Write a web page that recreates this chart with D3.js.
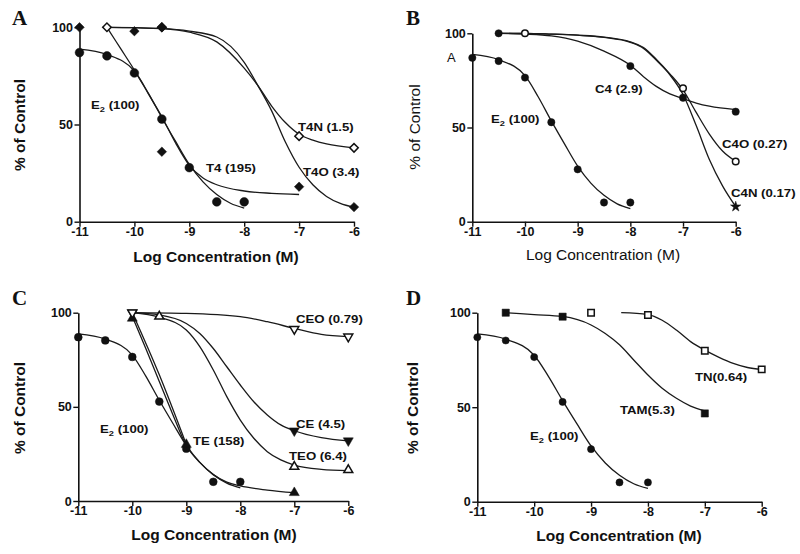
<!DOCTYPE html>
<html><head><meta charset="utf-8">
<script src="https://cdn.jsdelivr.net/npm/d3@7"></script>
<style>body{margin:0;background:#fff} svg{display:block;font-family:"Liberation Sans",Arial,Helvetica,sans-serif}</style>
</head><body><svg id="c" width="800" height="554"></svg>
<script>
// ---------- data ----------
const xTicks = [-11, -10, -9, -8, -7, -6];
const yTicks = [0, 50, 100];

// E2 (shared by all panels)
const e2X = [-11, -10.5, -10, -9.5, -9, -8.5, -8];
const e2Y = [87, 85.3, 76.5, 52.8, 27.8, 10.2, 10.2];
const e2CurveX = [-11, -10.5, -10, -9.75, -9.5, -9.25, -9, -8.75, -8.5, -8.25, -8];
const e2CurveY = [88.8, 86, 77.5, 66.3, 53.5, 41.3, 29.5, 20.5, 14, 9.5, 7];

// Panel A
const t4X = [-11, -10, -9.5, -7], t4Y = [100, 98, 36, 18];
const t4CurveX = [-10.5, -10.25, -10, -9.75, -9.5, -9.25, -9, -8.75, -8.5, -8, -7.5, -7];
const t4CurveY = [100, 89, 78, 66, 54, 40.5, 29, 22.5, 19, 15.8, 14.6, 14];
const t4oX = [-9.5, -6], t4oY = [100, 7.5];
const t4oCurveX = [-10.5, -10, -9.5, -9, -8.5, -8, -7.75, -7.5, -7.25, -7, -6.75, -6.5, -6.25, -6];
const t4oCurveY = [100, 99.8, 99.4, 98, 95, 82, 70, 57, 41, 28, 19, 13, 9.4, 7.4];
const t4nX = [-10.5, -9.5, -7, -6], t4nY = [100, 100, 44, 38];
const t4nCurveX = [-10.5, -10, -9.5, -9, -8.5, -8, -7.75, -7.5, -7.25, -7, -6.75, -6.5, -6];
const t4nCurveY = [100, 99.8, 99.3, 97.5, 92.5, 79, 70, 59.5, 51, 45, 42, 40, 38];

// Panel B
const c4X = [-10.5, -8, -7, -6], c4Y = [100, 82.6, 65.8, 58.4];
const c4CurveX = [-10.5, -10, -9.5, -9, -8.5, -8, -7.75, -7.5, -7.25, -7, -6.75, -6.5, -6];
const c4CurveY = [100, 99.6, 98.6, 95.8, 90.5, 83, 77, 71.7, 67.8, 65.3, 63, 61.3, 59.5];
const c4oX = [-10, -7, -6], c4oY = [100, 70.8, 32];
const c4oCurveX = [-10.5, -10, -9.5, -9, -8.5, -8, -7.75, -7.5, -7.25, -7, -6.75, -6.5, -6.25, -6];
const c4oCurveY = [100, 100, 99.6, 99, 98, 95.5, 92.5, 86, 78.5, 70, 58, 46.5, 37.5, 32];
const c4nX = [-6], c4nY = [8];
const c4nCurveX = [-10.5, -10, -9.5, -9, -8.5, -8, -7.75, -7.5, -7.25, -7, -6.75, -6.5, -6.25, -6];
const c4nCurveY = [100, 100, 99.6, 99, 97.8, 95.2, 92, 85.5, 78, 67.5, 51, 33, 19, 8];

// Panel C
const teX = [-10, -9, -7], teY = [97, 30, 4.4];
const teCurveX = [-10, -9.75, -9.5, -9.25, -9, -8.75, -8.5, -8.25, -8, -7.5, -7];
const teCurveY = [98, 81, 63.5, 46, 29.5, 20.5, 14, 10, 8, 5.8, 4.4];
const te2CurveX = [-10, -9.5, -9];
const te2CurveY = [100, 67, 30];
const ceX = [-10, -7, -6], ceY = [100, 37.3, 32];
const ceCurveX = [-10, -9.5, -9, -8.75, -8.5, -8.25, -8, -7.75, -7.5, -7.25, -7, -6.5, -6];
const ceCurveY = [100, 98.8, 94.3, 89, 81, 71.3, 61.6, 52.7, 45.7, 40.4, 37.3, 33.6, 31.9];
const teoX = [-9.5, -7, -6], teoY = [98, 18.2, 16.5];
const teoCurveX = [-10, -9.5, -9, -8.75, -8.5, -8.25, -8, -7.75, -7.5, -7.25, -7, -6.5, -6];
const teoCurveY = [100, 97.6, 90.8, 82, 69.6, 55.4, 43, 33.3, 26.2, 21.8, 19.1, 16.8, 16.1];
const ceoX = [-10, -7, -6], ceoY = [100, 91.3, 87.3];
const ceoCurveX = [-10, -9, -8, -7.5, -7, -6.5, -6];
const ceoCurveY = [100, 99.6, 97.9, 95.2, 91.7, 88.5, 87.3];

// Panel D
const tamX = [-10.5, -9.5, -7], tamY = [100, 97.9, 46.7];
const tamCurveX = [-10.5, -10, -9.5, -9, -8.75, -8.5, -8.25, -8, -7.75, -7.5, -7.25, -7];
const tamCurveY = [100, 99, 98, 93.5, 89, 83, 75, 67, 60, 54.7, 50.6, 48];
const tnX = [-9, -8, -7, -6], tnY = [100, 98.8, 79.9, 70];
const tnCurveX = [-8.47, -8, -7.75, -7.5, -7.25, -7, -6.75, -6.5, -6.25, -6];
const tnCurveY = [100, 99, 96, 90.8, 84.7, 80.2, 76.4, 73.2, 71, 70];

// ---------- layout ----------
const panels = [
  { letter: "A", xr: [79.5, 354], yr: [221.7, 27.3], bold: true, titleX: 216, titleY: 262, ylabX: 20, ylabY: 125, letterPos: [12, 25], msize: 60,
    curves: [[e2CurveX, e2CurveY], [t4CurveX, t4CurveY], [t4oCurveX, t4oCurveY], [t4nCurveX, t4nCurveY]],
    points: [[e2X, e2Y, "circle", true], [t4X, t4Y, "diamond", true], [t4nX, t4nY, "diamond", false], [t4oX, t4oY, "diamond", true]],
    labels: [["E_2 (100)", 91, 108.5], ["T4 (195)", 206, 172], ["T4N (1.5)", 298, 130.5], ["T4O (3.4)", 303, 176]] },
  { letter: "B", xr: [472.3, 735.7], yr: [221.7, 33.3], bold: false, titleX: 603, titleY: 260, ylabX: 415, ylabY: 127, letterPos: [406, 25], msize: 42,
    curves: [[e2CurveX, e2CurveY], [c4CurveX, c4CurveY], [c4oCurveX, c4oCurveY], [c4nCurveX, c4nCurveY]],
    points: [[e2X, e2Y, "circle", true], [c4X, c4Y, "circle", true], [c4oX, c4oY, "circle", false], [c4nX, c4nY, "star", true]],
    labels: [["E_2 (100)", 491, 123], ["C4 (2.9)", 595, 93], ["C4O (0.27)", 722, 148], ["C4N (0.17)", 731, 197]],
    extra: [["A", 447, 62]] },
  { letter: "C", xr: [78.3, 348.3], yr: [501, 312.7], bold: true, titleX: 214, titleY: 540, ylabX: 20, ylabY: 408, letterPos: [12, 305], msize: 48,
    curves: [[e2CurveX, e2CurveY], [teCurveX, teCurveY], [te2CurveX, te2CurveY], [ceCurveX, ceCurveY], [teoCurveX, teoCurveY], [ceoCurveX, ceoCurveY]],
    points: [[e2X, e2Y, "circle", true], [teX, teY, "triangle", true], [ceX, ceY, "triangleDown", true], [teoX, teoY, "triangle", false], [ceoX, ceoY, "triangleDown", false]],
    labels: [["E_2 (100)", 100, 433], ["TE (158)", 193, 445], ["CEO (0.79)", 296, 323], ["CE (4.5)", 296, 428], ["TEO (6.4)", 289, 460]] },
  { letter: "D", xr: [477.3, 761.7], yr: [501.7, 312.7], bold: true, titleX: 619, titleY: 541, ylabX: 413, ylabY: 408, letterPos: [406, 305], msize: 40,
    curves: [[e2CurveX, e2CurveY], [tamCurveX, tamCurveY], [tnCurveX, tnCurveY]],
    points: [[e2X, e2Y, "circle", true], [tamX, tamY, "square", true], [tnX, tnY, "square", false]],
    labels: [["E_2 (100)", 530, 440], ["TAM(5.3)", 620, 414], ["TN(0.64)", 695, 381]] }
];

const svg = d3.select("#c");
const fmt = d => String(d);

function symbolPath(kind, size) {
  const map = { circle: d3.symbolCircle, square: d3.symbolSquare, diamond: d3.symbolSquare, triangle: d3.symbolTriangle, triangleDown: d3.symbolTriangle, star: d3.symbolStar };
  return d3.symbol(map[kind], size)();
}
function symbolRot(kind) { return kind === "diamond" ? 45 : kind === "triangleDown" ? 180 : 0; }
function symbolSize(kind, base) {
  if (kind === "circle") return base;
  if (kind === "diamond") return base * 0.75;
  if (kind === "square") return base * 1.3;
  if (kind === "triangle" || kind === "triangleDown") return base * 0.9;
  if (kind === "star") return base * 0.8;
  return base;
}

function addLabel(g, str, x, y, size, weight, sx) {
  const t = g.append("g").attr("transform", `translate(${x},${y}) scale(${sx},1)`)
    .append("text").attr("font-size", size).attr("font-weight", weight).attr("fill", "#111");
  const m = str.match(/^(.*)_(\d)(.*)$/);
  if (m) {
    t.append("tspan").text(m[1]);
    t.append("tspan").attr("font-size", size * 0.7).attr("dy", 3).text(m[2]);
    t.append("tspan").attr("dy", -3).text(m[3]);
  } else t.text(str);
}

panels.forEach(p => {
  const g = svg.append("g");
  const x = d3.scaleLinear().domain([-11, -6]).range(p.xr);
  const y = d3.scaleLinear().domain([0, 100]).range(p.yr);

  const xa = g.append("g").attr("transform", `translate(0,${p.yr[0]})`)
    .call(d3.axisBottom(x).tickValues(xTicks).tickSize(5).tickSizeOuter(0).tickPadding(0.5).tickFormat(fmt));
  const ya = g.append("g").attr("transform", `translate(${p.xr[0]},0)`)
    .call(d3.axisLeft(y).tickValues(yTicks).tickSize(5).tickSizeOuter(0).tickPadding(1.5).tickFormat(fmt));
  [xa, ya].forEach(a => {
    a.select(".domain").attr("stroke", "#111").attr("stroke-width", 1.6);
    a.selectAll(".tick line").attr("stroke", "#111").attr("stroke-width", 1.4);
    a.selectAll(".tick text").attr("font-size", 12.5).attr("font-weight", "bold").attr("fill", "#111")
      .attr("font-family", '"Liberation Sans",Arial,sans-serif');
  });

  // curves
  const line = d3.line().x(d => x(d[0])).y(d => y(d[1])).curve(d3.curveMonotoneX);
  p.curves.forEach(([cx, cy]) => {
    g.append("path").datum(cx.map((v, i) => [v, cy[i]])).attr("d", line)
      .attr("fill", "none").attr("stroke", "#1a1a1a").attr("stroke-width", 1.3);
  });

  // points
  p.points.forEach(([px, py, kind, filled]) => {
    const sz = symbolSize(kind, p.msize);
    g.append("g").selectAll("path").data(px.map((v, i) => [v, py[i]])).join("path")
      .attr("d", symbolPath(kind, filled ? sz : sz * 0.8))
      .attr("transform", d => `translate(${x(d[0])},${y(d[1])}) rotate(${symbolRot(kind)})`)
      .attr("fill", filled ? "#111" : "#fff").attr("stroke", "#111").attr("stroke-width", filled ? 0.5 : 1.5);
  });

  // labels
  p.labels.forEach(([s, lx, ly]) => addLabel(g, s, lx, ly, 11.5, "bold", 1.15));
  (p.extra || []).forEach(([s, lx, ly]) => addLabel(g, s, lx, ly, 13, "normal", 1));

  // axis titles
  g.append("text").attr("x", p.titleX).attr("y", p.titleY).attr("text-anchor", "middle")
    .attr("font-size", 15.5).attr("font-weight", p.bold ? "bold" : "normal").attr("fill", "#111")
    .text("Log Concentration (M)");
  g.append("text").attr("transform", `translate(${p.ylabX + 5},${p.ylabY}) rotate(-90)`).attr("text-anchor", "middle")
    .attr("font-size", 15.5).attr("font-weight", p.bold ? "bold" : "normal").attr("fill", "#111")
    .text("% of Control");

  // panel letter
  g.append("text").attr("x", p.letterPos[0]).attr("y", p.letterPos[1])
    .attr("font-family", '"Liberation Serif","Times New Roman",serif').attr("font-weight", "bold")
    .attr("font-size", 21).attr("fill", "#111").text(p.letter);
});
</script></body></html>
